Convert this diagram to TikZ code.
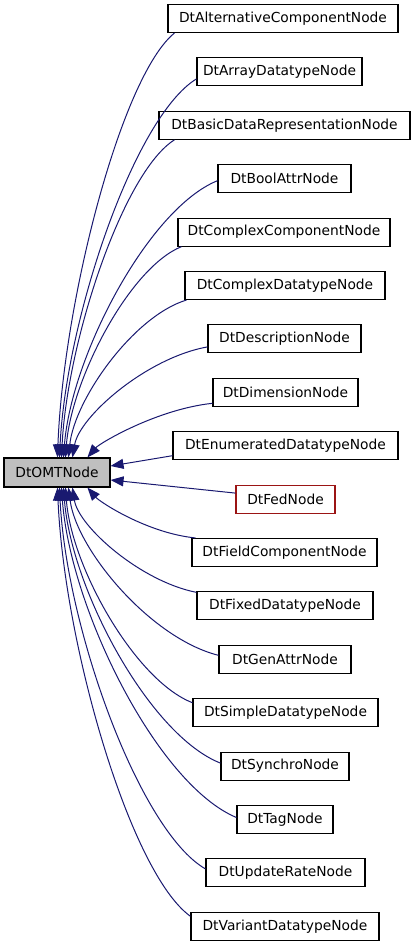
\documentclass[tikz,border=0pt]{standalone}
\usepackage{fontspec}
\setmainfont{DejaVu Sans}
\usetikzlibrary{arrows.meta,calc}
\definecolor{edgeblue}{RGB}{25,25,112}
\definecolor{fedred}{RGB}{155,20,20}
\definecolor{basegray}{RGB}{191,191,191}
\begin{document}
\begin{tikzpicture}[x=1pt,y=-1pt,
  box/.style={draw=black, line width=1.1pt, minimum height=28pt, inner sep=0pt,
    font=\fontsize{13.8}{16}\selectfont, fill=white},
  edge/.style={draw=edgeblue, line width=1pt, -{Triangle[length=13pt,width=10pt]}}]
\useasboundingbox (0,0) rectangle (416,947);

\node[box, fill=basegray, minimum width=106pt, minimum height=29pt] (omt) at (57,472.5) {DtOMTNode};

\node[box, minimum width=230pt] (n1) at (283,18.5) {DtAlternativeComponentNode};
\node[box, minimum width=165pt] (n2) at (279.5,71.9) {DtArrayDatatypeNode};
\node[box, minimum width=251pt] (n3) at (284.5,125.3) {DtBasicDataRepresentationNode};
\node[box, minimum width=133pt] (n4) at (284.5,178.7) {DtBoolAttrNode};
\node[box, minimum width=212pt] (n5) at (284,232.1) {DtComplexComponentNode};
\node[box, minimum width=200pt] (n6) at (285,285.5) {DtComplexDatatypeNode};
\node[box, minimum width=153pt] (n7) at (284.5,338.9) {DtDescriptionNode};
\node[box, minimum width=145pt] (n8) at (285.5,392.3) {DtDimensionNode};
\node[box, minimum width=225pt] (n9) at (285.5,445.7) {DtEnumeratedDatatypeNode};
\node[box, draw=fedred, minimum width=99pt] (n10) at (285.5,499.1) {DtFedNode};
\node[box, minimum width=185pt] (n11) at (284.5,552.5) {DtFieldComponentNode};
\node[box, minimum width=176pt] (n12) at (285,605.9) {DtFixedDatatypeNode};
\node[box, minimum width=132pt] (n13) at (285,659.3) {DtGenAttrNode};
\node[box, minimum width=185pt] (n14) at (285.5,712.7) {DtSimpleDatatypeNode};
\node[box, minimum width=128pt] (n15) at (285,766.1) {DtSynchroNode};
\node[box, minimum width=96pt] (n16) at (285,819.5) {DtTagNode};
\node[box, minimum width=159pt] (n17) at (285.5,872.9) {DtUpdateRateNode};
\node[box, minimum width=188pt] (n18) at (285,926.3) {DtVariantDatatypeNode};

% edges above
\draw[edge] ($(n1.south west)+(7,0)$) .. controls +(-53,43) and +(6,-157) .. ($(omt.north west)+(54,0)$);
\draw[edge] ($(n2.west)+(0,7)$) .. controls +(-62,38) and +(7,-140) .. ($(omt.north west)+(56,0)$);
\draw[edge] ($(n3.south west)+(16,0)$) .. controls +(-51,32) and +(6,-118) .. ($(omt.north west)+(58,0)$);
\draw[edge] ($(n4.west)+(0,2)$) .. controls +(-69,28) and +(8,-102) .. ($(omt.north west)+(60,0)$);
\draw[edge] ($(n5.south west)+(4,0)$) .. controls +(-52,21) and +(6,-78) .. ($(omt.north west)+(62,0)$);
\draw[edge] ($(n6.south west)+(2,0)$) .. controls +(-53,16) and +(6,-58) .. ($(omt.north west)+(65,0)$);
\draw[edge] ($(n7.west)+(0,8)$) .. controls +(-61,11) and +(7,-41) .. ($(omt.north west)+(69,0)$);
\draw[edge] ($(n8.west)+(0,11)$) .. controls +(-56,6) and +(12,-14) .. ($(omt.north west)+(84,0)$);
% side edges
\draw[edge] ($(n9.west)+(0,10)$) -- ($(omt.east)+(0,-6.5)$);
\draw[edge] ($(n10.west)+(0,-6)$) -- ($(omt.east)+(0,7.5)$);
% edges below
\draw[edge] ($(n11.north west)+(4,0)$) .. controls +(-49,-5) and +(12,14) .. ($(omt.south west)+(84,0)$);
\draw[edge] ($(n12.north west)+(0,1)$) .. controls +(-56,-11) and +(6,39) .. ($(omt.south west)+(69,0)$);
\draw[edge] ($(n13.west)+(0,-4)$) .. controls +(-68,-17) and +(8,62) .. ($(omt.south west)+(65,0)$);
\draw[edge] ($(n14.west)+(0,-10)$) .. controls +(-57,-22) and +(6,80) .. ($(omt.south west)+(62,0)$);
\draw[edge] ($(n15.west)+(0,-3)$) .. controls +(-71,-28) and +(8,102) .. ($(omt.south west)+(60,0)$);
\draw[edge] ($(n16.west)+(0,-2)$) .. controls +(-79,-33) and +(9,122) .. ($(omt.south west)+(58,0)$);
\draw[edge] ($(n17.west)+(0,-4)$) .. controls +(-66,-38) and +(7,141) .. ($(omt.south west)+(56,0)$);
\draw[edge] ($(n18.west)+(0,-10)$) .. controls +(-60,-43) and +(7,159) .. ($(omt.south west)+(54,0)$);
\end{tikzpicture}
\end{document}
